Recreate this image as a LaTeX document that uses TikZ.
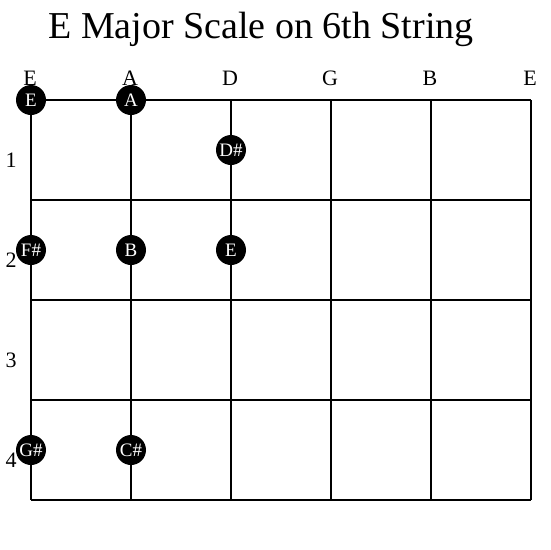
\documentclass[tikz,border=0pt]{standalone}
\usepackage{fontspec}
\setmainfont{Liberation Serif}
\begin{document}
\begin{tikzpicture}[x=1pt,y=-1pt,
  gridline/.style={line width=2pt,black},
  strlabel/.style={anchor=base,inner sep=0pt,font=\fontsize{22}{24}\selectfont},
  fretlabel/.style={anchor=base,inner sep=0pt,font=\fontsize{22}{24}\selectfont},
  notedot/.style={circle,fill=black,minimum size=30pt,inner sep=0pt,text=white,font=\fontsize{19}{20}\selectfont}]
\useasboundingbox (0,0) rectangle (550,550);
\node[anchor=base,inner sep=0pt,font=\fontsize{38}{40}\selectfont] (title) at (261,38) {E Major Scale on 6th String};
% string labels
\node[strlabel] (s1) at (30,85) {E};
\node[strlabel] (s2) at (130,85) {A};
\node[strlabel] (s3) at (230,85) {D};
\node[strlabel] (s4) at (330,85) {G};
\node[strlabel] (s5) at (430,85) {B};
\node[strlabel] (s6) at (530,85) {E};
% fret labels
\node[fretlabel] (f1) at (11,167) {1};
\node[fretlabel] (f2) at (11,267) {2};
\node[fretlabel] (f3) at (11,367) {3};
\node[fretlabel] (f4) at (11,467) {4};
% grid
\foreach \x in {31,131,231,331,431,531} \draw[gridline] (\x,100) -- (\x,500);
\foreach \y in {100,200,300,400,500} \draw[gridline] (31,\y) -- (531,\y);
% notes
\node[notedot] (nE1) at (31,100) {E};
\node[notedot] (nA) at (131,100) {A};
\node[notedot] (nDs) at (231,150) {D\#};
\node[notedot] (nFs) at (31,250) {F\#};
\node[notedot] (nB) at (131,250) {B};
\node[notedot] (nE2) at (231,250) {E};
\node[notedot] (nGs) at (31,450) {G\#};
\node[notedot] (nCs) at (131,450) {C\#};
\end{tikzpicture}
\end{document}
